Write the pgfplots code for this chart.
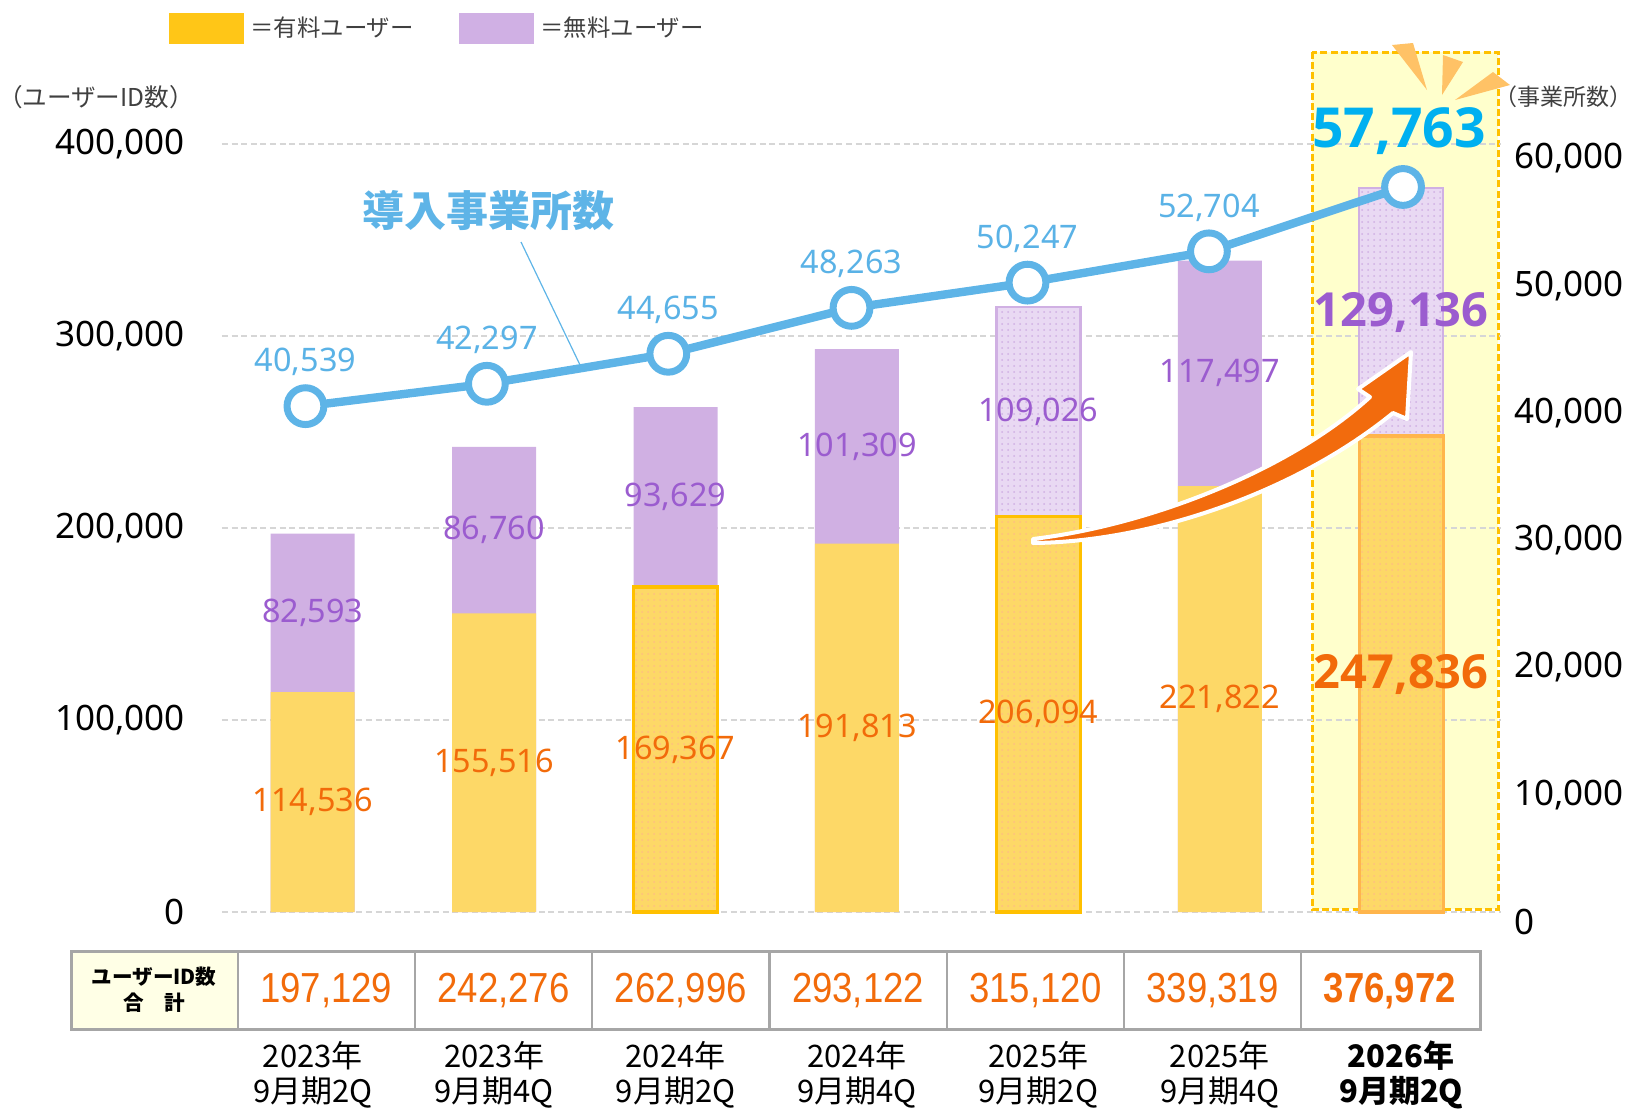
\documentclass[border=0pt]{standalone}
\usepackage{fontspec}
\setmainfont{Noto Sans}
\newfontfamily\bnum{Open Sans}
\newfontfamily\jp{Noto Sans CJK JP}
\newfontfamily\tabfont[FakeStretch=0.87]{Liberation Sans}
\usepackage{pgfplots}
\pgfplotsset{compat=1.18}
\usetikzlibrary{patterns}

\definecolor{paid}{HTML}{FDD867}
\definecolor{free}{HTML}{D0B0E3}
\definecolor{freelight}{HTML}{E9D9F3}
\definecolor{legyellow}{HTML}{FFC617}
\definecolor{legpurple}{HTML}{D0B0E4}
\definecolor{borderorange}{HTML}{FFC000}
\definecolor{borderorange2}{HTML}{FFB54C}
\definecolor{lineblue}{HTML}{5EB4E7}
\definecolor{bluetext}{HTML}{5AB2E6}
\definecolor{bigblue}{HTML}{00B0F0}
\definecolor{purpletext}{HTML}{9B5CCF}
\definecolor{orangetext}{HTML}{F26B0A}
\definecolor{arrow}{HTML}{F26B0D}
\definecolor{burst}{HTML}{FFC266}
\definecolor{hlfill}{HTML}{FFFFCC}
\definecolor{gridgray}{HTML}{D6D6D6}
\definecolor{tablegray}{HTML}{A6A6A6}
\definecolor{cream}{HTML}{FFFFE6}
\definecolor{darktext}{HTML}{404040}

\begin{document}
\begin{tikzpicture}
\useasboundingbox (0,0) rectangle (817.5pt,-555pt);

% highlight box (behind everything)
\begin{scope}[x=0.5pt,y=-0.5pt]
\draw[draw=borderorange, fill=hlfill, line width=1.5pt, dash pattern=on 3.5pt off 1.6pt] (1312,52) rectangle (1498,909);
\end{scope}

% ---------------- left axis: user IDs ----------------
\begin{axis}[
  at={(111pt,-456pt)}, anchor=south west,
  width=639.5pt, height=384pt, scale only axis,
  xmin=-0.5, xmax=6.55, ymin=0, ymax=400000,
  axis line style={draw=none},
  major tick length=0pt,
  ytick={0,100000,200000,300000,400000},
  ymajorgrids, grid style={dash pattern=on 3pt off 1.8pt, color=gridgray, line width=0.8pt},
  xtick={0,1,2,3,4,5,6},
  xticklabels={2023年\\9月期2Q,2023年\\9月期4Q,2024年\\9月期2Q,2024年\\9月期4Q,2025年\\9月期2Q,2025年\\9月期4Q,\textbf{2026年}\\\textbf{9月期2Q}},
  xticklabel style={font=\jp\fontsize{15.5}{17.5}\selectfont, align=center, yshift=-61pt, text=black},
  yticklabel style={font=\fontsize{17.5}{20}\selectfont, xshift=-15pt, text=black},
  scaled y ticks=false,
  /pgf/number format/fixed,
  /pgf/number format/1000 sep={,},
  /pgf/number format/assume math mode=true,
  clip=false,
]
% totals (free on top, drawn first as full height)
\addplot[ybar, bar width=42pt, bar shift=0pt, fill=free, draw=none]
  coordinates {(0,197129) (1,242276) (2,262996) (3,293122) (5,339319)};
\addplot[ybar, bar width=42pt, bar shift=0pt, fill=freelight, draw=free, line width=1.2pt,
  postaction={pattern=dots, pattern color=free}]
  coordinates {(4,315120) (6,376972)};
% paid
\addplot[ybar, bar width=42pt, bar shift=0pt, fill=paid, draw=none]
  coordinates {(0,114536) (1,155516) (3,191813) (5,221822)};
\addplot[ybar, bar width=42pt, bar shift=0pt, fill=paid, draw=borderorange, line width=1.7pt,
  postaction={pattern=dots, pattern color=orange!50}]
  coordinates {(2,169367) (4,206094)};
\addplot[ybar, bar width=42pt, bar shift=0pt, fill=paid, draw=borderorange2, line width=1.7pt,
  postaction={pattern=dots, pattern color=orange!50}]
  coordinates {(6,247836)};

% paid labels
\addplot[draw=none, mark=none, nodes near coords, point meta=explicit symbolic,
  every node near coord/.append style={anchor=center, font=\fontsize{16.2}{18}\selectfont, text=orangetext}]
  table[meta=lab] {
x y lab
0 57268 114,536
1 77758 155,516
2 84684 169,367
3 95907 191,813
4 103047 206,094
5 110911 221,822
};
% free labels
\addplot[draw=none, mark=none, nodes near coords, point meta=explicit symbolic,
  every node near coord/.append style={anchor=center, font=\fontsize{16.2}{18}\selectfont, text=purpletext}]
  table[meta=lab] {
x y lab
0 155832 82,593
1 198896 86,760
2 216182 93,629
3 242468 101,309
4 260607 109,026
5 280571 117,497
};
% highlighted bar labels
\addplot[draw=none, mark=none, nodes near coords, point meta=explicit symbolic,
  every node near coord/.append style={anchor=center, font=\bnum\bfseries\fontsize{23.5}{26}\selectfont, text=orangetext}]
  table[meta=lab] {
x y lab
6 123918 247,836
};
\addplot[draw=none, mark=none, nodes near coords, point meta=explicit symbolic,
  every node near coord/.append style={anchor=center, font=\bnum\bfseries\fontsize{23.5}{26}\selectfont, text=purpletext}]
  table[meta=lab] {
x y lab
6 312404 129,136
};
\end{axis}

% ---------------- right axis: offices ----------------
\begin{axis}[
  at={(111pt,-461pt)}, anchor=south west,
  width=639.5pt, height=381.75pt, scale only axis,
  xmin=-0.5, xmax=6.55, ymin=0, ymax=60000,
  axis x line=none, axis y line*=right,
  axis line style={draw=none},
  major tick length=0pt,
  xtick=\empty,
  ytick={0,10000,20000,30000,40000,50000,60000},
  yticklabel style={font=\fontsize{17.5}{20}\selectfont, xshift=3pt, text=black},
  scaled y ticks=false,
  /pgf/number format/fixed,
  /pgf/number format/1000 sep={,},
  /pgf/number format/assume math mode=true,
  clip=false,
]
\addplot[color=lineblue, line width=4.2pt, mark=*, mark size=9.2pt,
  mark options={fill=white, draw=lineblue, line width=3.5pt}]
  coordinates {(-0.04,40539) (0.96,42297) (1.96,44655) (2.97,48263) (3.94,50247) (4.94,52704) (6.01,57763)};
\addplot[draw=none, mark=none, nodes near coords, point meta=explicit symbolic,
  every node near coord/.append style={anchor=center, yshift=22pt, font=\fontsize{16.2}{18}\selectfont, text=bluetext}]
  table[meta=lab] {
x y lab
-0.04 40539 40,539
0.96 42297 42,297
1.96 44655 44,655
2.97 48263 48,263
3.94 50247 50,247
4.94 52704 52,704
};
\addplot[draw=none, mark=none, nodes near coords, point meta=explicit symbolic,
  every node near coord/.append style={anchor=center, yshift=28pt, xshift=-2pt, font=\bnum\bfseries\fontsize{27.6}{30}\selectfont, text=bigblue}]
  table[meta=lab] {
x y lab
6.01 57763 57,763
};
\end{axis}

% ---------------- decorations, legend, table ----------------
\begin{scope}[x=0.5pt,y=-0.5pt]
% arrow
\filldraw[fill=arrow, draw=white, line width=2pt, line join=round, line cap=round]
  (1033,539) .. controls (1150,525) and (1290,470) .. (1370,397)
  -- (1358,389) -- (1411,352) -- (1407,419) -- (1393,413)
  .. controls (1295,493) and (1150,542) .. (1033,543) -- cycle;
% starburst
\fill[burst] (1392,45) -- (1413,43) -- (1427,90) -- cycle;
\fill[burst] (1443,55) -- (1463,62) -- (1442,95) -- cycle;
\fill[burst] (1455,100) -- (1493,72) -- (1510,85) -- cycle;
% legend
\fill[legyellow] (169,13) rectangle (244,44);
\node[anchor=west, inner sep=0pt, font=\jp\fontsize{11.7}{14}\selectfont, text=darktext] at (250,28) {＝有料ユーザー};
\fill[legpurple] (459,13) rectangle (534,44);
\node[anchor=west, inner sep=0pt, font=\jp\fontsize{11.7}{14}\selectfont, text=darktext] at (540,28) {＝無料ユーザー};
% axis titles
\node[font=\jp\fontsize{12.3}{14}\selectfont, text=darktext] at (96,97) {（ユーザーID数）};
\node[anchor=east, inner sep=0pt, font=\jp\fontsize{11.5}{14}\selectfont, text=darktext] at (1633,97) {（事業所数）};
% series label
\draw[lineblue, line width=0.6pt] (521,242) -- (581,367);
\node[font=\jp\bfseries\fontsize{21}{24}\selectfont, text=lineblue] at (488,211) {導入事業所数};
% table
\fill[cream] (71,951) rectangle (237.7,1029);
\draw[tablegray, line width=1.5pt] (71,951) rectangle (1480,1029);
\foreach \k in {0,...,6} {
  \draw[tablegray, line width=1.2pt] ({237.7+177.25*\k},951) -- ({237.7+177.25*\k},1029);
}
\node[align=center, font=\jp\bfseries\fontsize{10.3}{13}\selectfont, text=black] at (154,990) {ユーザーID数\\合　計};
\foreach \v [count=\i from 0] in {197{,}129,242{,}276,262{,}996,293{,}122,315{,}120,339{,}319} {
  \node[font=\tabfont\fontsize{21}{24}\selectfont, text=orangetext] at ({326.3+177.25*\i},991) {\v};
}
\node[font=\tabfont\bfseries\fontsize{21}{24}\selectfont, text=orangetext] at ({326.3+177.25*6},991) {376,972};
\end{scope}
\end{tikzpicture}
\end{document}
